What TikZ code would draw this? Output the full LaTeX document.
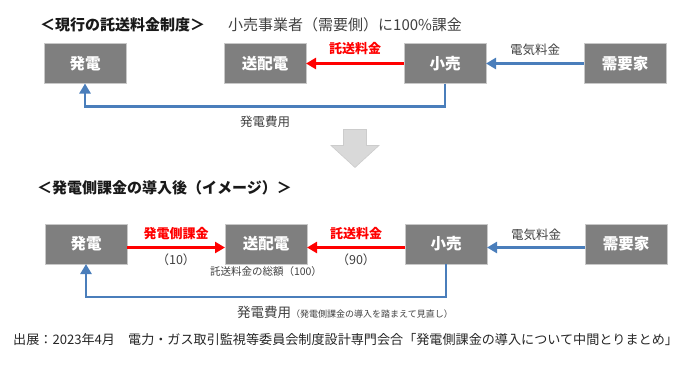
\documentclass[tikz,border=0pt]{standalone}
\usepackage{fontspec}
\setmainfont{Noto Sans CJK JP}
\usetikzlibrary{positioning,arrows.meta,calc}
\definecolor{boxgray}{RGB}{127,127,127}
\definecolor{boxline}{RGB}{200,200,200}
\definecolor{feered}{RGB}{255,0,0}
\definecolor{payblue}{RGB}{74,126,187}
\definecolor{txtgray}{RGB}{64,64,64}
\definecolor{bigarrow}{RGB}{217,217,217}
\tikzset{
  party/.style={draw=boxline, fill=boxgray, text=white, font=\fontsize{15.5}{15.5}\selectfont\bfseries, minimum width=82pt, minimum height=40pt, inner sep=0pt, outer sep=0pt, line width=0.8pt},
  ttl/.style={font=\fontsize{15}{15}\selectfont\bfseries, text=black!90, inner sep=0pt},
  lbl/.style={font=\fontsize{12.5}{12.5}\selectfont, text=txtgray, inner sep=0pt},
  rl/.style={font=\fontsize{13}{13}\selectfont\bfseries, text=feered, inner sep=0pt},
  fee/.style={-{Triangle[length=10pt,width=11pt]}, feered, line width=3pt},
  pay/.style={-{Triangle[length=10pt,width=11pt]}, payblue, line width=2.8pt},
}
\begin{document}
\begin{tikzpicture}[x=1pt,y=-1pt,node distance=0pt and 98pt]
\useasboundingbox (0,0) rectangle (692,364);
% current scheme
\node[ttl,anchor=west] (now) at (40,25) {＜現行の託送料金制度＞};
\node[lbl,font=\fontsize{15}{15}\selectfont,anchor=west] (nownote) at (228,25) {小売事業者（需要側）に100\%課金};
\node[party] (gen1) at (85,63.5) {発電};
\node[party,right=of gen1] (td1) {送配電};
\node[party,right=of td1] (ret1) {小売};
\node[party,right=of ret1] (cons1) {需要家};
\draw[fee] (ret1) -- node[rl,above=7pt] {託送料金} (td1);
\draw[pay] (cons1) -- node[lbl,above=7pt] {電気料金} (ret1);
\draw[pay] (ret1.south) -- ++(0,23) -| node[lbl,pos=.25,below=8pt] {発電費用} (gen1.south);
% big arrow between the two schemes
\coordinate (mid) at ($(td1.south)!.5!(ret1.south)$);
\filldraw[fill=bigarrow, draw=black!20, line width=0.6pt]
  ([shift={(-11.5,46)}]mid) -- ([shift={(11.5,46)}]mid) -- ([shift={(11.5,62)}]mid)
  -- ([shift={(24,62)}]mid) -- ([shift={(0,84)}]mid) -- ([shift={(-24,62)}]mid)
  -- ([shift={(-11.5,62)}]mid) -- cycle;
% after introduction
\node[ttl,anchor=west] (after) at (37,188) {＜発電側課金の導入後（イメージ）＞};
\node[party] (gen2) at (86,244) {発電};
\node[party,right=of gen2] (td2) {送配電};
\node[party,right=of td2] (ret2) {小売};
\node[party,right=of ret2] (cons2) {需要家};
\draw[fee] ([yshift=-3.5pt]gen2.east) -- node[rl,above=6pt] {発電側課金} node[lbl,below=5pt] {（10）} ([yshift=-3.5pt]td2.west);
\draw[fee] ([yshift=-3.5pt]ret2.west) -- node[rl,above=6pt] {託送料金} node[lbl,below=5pt] {（90）} ([yshift=-3.5pt]td2.east);
\node[lbl,font=\fontsize{10.5}{10.5}\selectfont,below=2pt of td2] (total) {託送料金の総額（100）};
\draw[pay] ([yshift=-3.5pt]cons2.west) -- node[lbl,above=6pt] {電気料金} ([yshift=-3.5pt]ret2.east);
\draw[pay] (ret2.south) -- ++(0,33) -| (gen2.south);
\node[lbl,font=\fontsize{13.5}{13.5}\selectfont,anchor=west] (cost2) at (237,312) {発電費用{\fontsize{9}{9}\selectfont（発電側課金の導入を踏まえて見直し）}};
% source
\node[lbl,font=\fontsize{13.1}{13.1}\selectfont,text=black!85,anchor=west] (src) at (13,340) {出展：2023年4月　電力・ガス取引監視等委員会制度設計専門会合「発電側課金の導入について中間とりまとめ」};
\end{tikzpicture}
\end{document}
